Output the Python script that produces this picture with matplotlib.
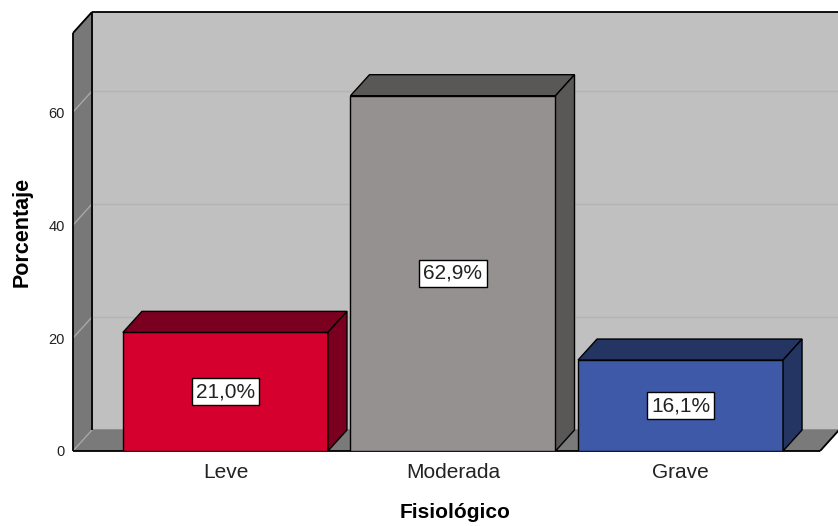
import matplotlib
matplotlib.use('Agg')
import matplotlib.pyplot as plt

# data
categories = ['Leve', 'Moderada', 'Grave']
percent = [21.0, 62.9, 16.1]
value_labels = ['21,0%', '62,9%', '16,1%']
front_colors = ['#d6002f', '#949190', '#3d59a8']
shade_colors = ['#7b0020', '#5a5857', '#253563']
y_ticks = [0, 20, 40, 60]

plt.rcParams['font.family'] = ['Liberation Sans', 'DejaVu Sans']

# 3D depth offsets in data units
dx = 0.0835
dy = 3.72
bar_w = 0.901
x_left = -0.670
x_right = 2.692
x_floor = 2.613
y_top = 74.0

fig = plt.figure(figsize=(8.38, 5.26), dpi=100)
ax = fig.add_axes([73 / 838, 75 / 526, 765 / 838, 439 / 526])
ax.set_xlim(x_left, x_right)
ax.set_ylim(0, y_top + dy)

# back wall, left wall, floor
ax.fill([x_left + dx, x_right, x_right, x_left + dx],
        [dy, dy, y_top + dy, y_top + dy], color='#c0c0c0', zorder=0)
ax.fill([x_left, x_left + dx, x_left + dx, x_left],
        [0, dy, y_top + dy, y_top], color='#787878', zorder=0)
ax.fill([x_left, x_floor, x_floor + dx, x_left + dx],
        [0, 0, dy, dy], color='#7a7a7a', zorder=0)

# gridlines
for t in y_ticks[1:]:
    ax.plot([x_left + dx, x_right], [t + dy, t + dy], color='#b3b3b3', lw=1, zorder=1)
    ax.plot([x_left, x_left + dx], [t, t + dy], color='#a8a8a8', lw=1, zorder=1)
ax.plot([x_left, x_left + dx], [0, dy], color='#a8a8a8', lw=1, zorder=1)

# frame edges
k = dict(color='black', lw=1.3, zorder=2, clip_on=False, solid_capstyle='butt')
ax.plot([x_left, x_left], [0, y_top], **k)
ax.plot([x_left, x_left + dx], [y_top, y_top + dy], **k)
ax.plot([x_left + dx, x_right], [y_top + dy, y_top + dy], **k)
ax.plot([x_left + dx, x_left + dx], [dy, y_top + dy], **k)
ax.plot([x_left, x_floor], [0, 0], **k)
ax.plot([x_floor, x_floor + dx], [0, dy], **k)

# bars
xs = list(range(len(categories)))
ax.bar(xs, percent, width=bar_w, color=front_colors, edgecolor='black',
       linewidth=1, zorder=3)
for x, v, c, lab in zip(xs, percent, shade_colors, value_labels):
    l, r = x - bar_w / 2, x + bar_w / 2
    ax.fill([l, r, r + dx, l + dx], [v, v, v + dy, v + dy],
            facecolor=c, edgecolor='black', lw=1, zorder=3)
    ax.fill([r, r + dx, r + dx, r], [0, dy, v + dy, v],
            facecolor=c, edgecolor='black', lw=1, zorder=3)
    ax.text(x, v / 2, lab, ha='center', va='center', fontsize=15, zorder=4,
            color='#222222',
            bbox=dict(boxstyle='square,pad=0.2', facecolor='white',
                      edgecolor='black', lw=1))

for s in ax.spines.values():
    s.set_visible(False)
ax.set_yticks(y_ticks)
ax.set_yticklabels([str(t) for t in y_ticks], fontsize=10.5, color='#222222')
ax.set_xticks(xs)
ax.set_xticklabels(categories, fontsize=15, color='#222222')
ax.tick_params(axis='y', length=0, pad=6)
ax.tick_params(axis='x', length=0, pad=9)
ax.set_xlabel('Fisiológico', fontsize=15, fontweight='bold', labelpad=15)
ax.set_ylabel('Porcentaje', fontsize=15.5, fontweight='bold', labelpad=11)

fig.savefig('out.png', dpi=100)
